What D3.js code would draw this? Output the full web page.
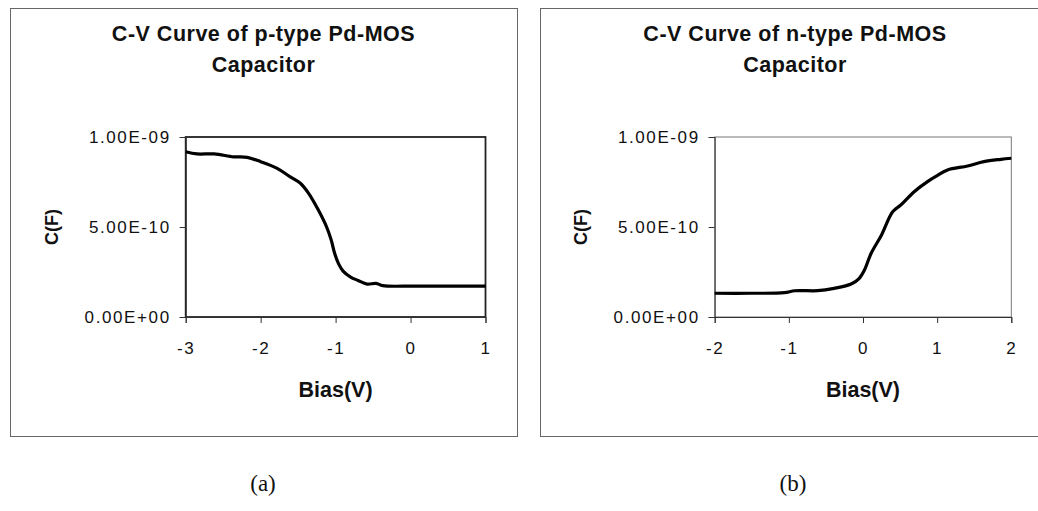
<!DOCTYPE html>
<html>
<head>
<meta charset="utf-8">
<script src="https://cdn.jsdelivr.net/npm/d3@7"></script>
<style>
	body { margin: 0; background: #fff; }
	svg { display: block; }
	.tick text { font-family: "Liberation Sans", Arial, sans-serif; font-size: 17px; letter-spacing: 1.6px; fill: #111; }
</style>
</head>
<body>
<script>
// bias values (V) and capacitance (F)
const pBias = [-3, -2.85, -2.62, -2.36, -2.18, -2.0, -1.78, -1.61, -1.47, -1.36, -1.23, -1.12, -1.06, -1.01, -0.96, -0.9, -0.8, -0.7, -0.58, -0.46, -0.37, 0.07, 1.0]
const pCap = [9.18e-10, 9.06e-10, 9.06e-10, 8.9e-10, 8.87e-10, 8.63e-10, 8.26e-10, 7.8e-10, 7.43e-10, 6.87e-10, 5.94e-10, 5.0e-10, 4.3e-10, 3.5e-10, 2.95e-10, 2.55e-10, 2.22e-10, 2.03e-10, 1.83e-10, 1.87e-10, 1.74e-10, 1.72e-10, 1.72e-10]

// same for the n-type curve
const nBias = [-2, -1.51, -1.06, -0.92, -0.61, -0.39, -0.16, -0.05, 0.02, 0.11, 0.25, 0.40, 0.51, 0.69, 0.87, 1.0, 1.14, 1.41, 1.63, 1.86, 2.0]
const nCap = [1.32e-10, 1.32e-10, 1.35e-10, 1.46e-10, 1.46e-10, 1.59e-10, 1.83e-10, 2.15e-10, 2.61e-10, 3.54e-10, 4.56e-10, 5.85e-10, 6.22e-10, 6.96e-10, 7.52e-10, 7.85e-10, 8.17e-10, 8.39e-10, 8.63e-10, 8.76e-10, 8.82e-10]

// tick values and labels
const pTicksX = [-3, -2, -1, 0, 1]
const nTicksX = [-2, -1, 0, 1, 2]
const capTicks = [0, 5e-10, 1e-9]
const capLabels = ["0.00E+00", "5.00E-10", "1.00E-09"]

const titles = ["C-V Curve of p-type Pd-MOS", "C-V Curve of n-type Pd-MOS"]
const captions = ["(a)", "(b)"]

var svg = d3.select("body").append("svg")
	.attr("width", 1038)
	.attr("height", 511)

// panel layout, one per chart
var panels = [{
	box: [10, 8, 507, 428],
	plot: { left: 185.7, right: 485.5, top: 137, bottom: 317 },
	bias: pBias, cap: pCap, ticks: pTicksX, title: titles[0], caption: captions[0],
	frame: "#222", frameWidth: 1.8
}, {
	box: [540, 8, 510, 428],
	plot: { left: 714.7, right: 1011.3, top: 137, bottom: 317 },
	bias: nBias, cap: nCap, ticks: nTicksX, title: titles[1], caption: captions[1],
	frame: "#777", frameWidth: 1
}]

var font = "'Liberation Sans', Arial, sans-serif"

panels.forEach(function (p) {
	var g = svg.append("g")

	// outer chart border
	g.append("rect")
		.attr("x", p.box[0] + 0.5)
		.attr("y", p.box[1] + 0.5)
		.attr("width", p.box[2])
		.attr("height", p.box[3])
		.attr("fill", "none")
		.attr("stroke", "#666")
		.attr("stroke-width", 1)

	var x = d3.scaleLinear()
		.domain(d3.extent(p.ticks))
		.range([p.plot.left, p.plot.right])

	var y = d3.scaleLinear()
		.domain([0, 1e-9])
		.range([p.plot.bottom, p.plot.top])

	var cx = p.box[0] + p.box[2] / 2

	// title on two lines
	var title = g.append("text")
		.attr("text-anchor", "middle")
		.attr("font-family", font)
		.attr("font-weight", "bold")
		.attr("font-size", 21.5)
		.attr("letter-spacing", 0.5)
		.attr("fill", "#111")
	title.append("tspan").attr("x", cx).attr("y", 41).text(p.title)
	title.append("tspan").attr("x", cx).attr("y", 72).text("Capacitor")

	// plot area frame
	g.append("rect")
		.attr("x", p.plot.left)
		.attr("y", p.plot.top)
		.attr("width", p.plot.right - p.plot.left)
		.attr("height", p.plot.bottom - p.plot.top)
		.attr("fill", "none")
		.attr("stroke", p.frame)
		.attr("stroke-width", p.frameWidth)

	// axes
	var xAxis = g.append("g")
		.attr("transform", "translate(0," + p.plot.bottom + ")")
		.call(d3.axisBottom(x).tickValues(p.ticks).tickFormat(function (d) { return String(d) }).tickSize(6).tickPadding(19))
	xAxis.select(".domain").attr("stroke", "#333")

	var yAxis = g.append("g")
		.attr("transform", "translate(" + p.plot.left + ",0)")
		.call(d3.axisLeft(y).tickValues(capTicks).tickFormat(function (d, i) { return capLabels[i] }).tickSize(6).tickPadding(9))
	yAxis.select(".domain").attr("stroke", "#333")
	g.selectAll(".tick line").attr("stroke", "#333")

	// axis titles
	g.append("text")
		.attr("x", (p.plot.left + p.plot.right) / 2)
		.attr("y", 397)
		.attr("text-anchor", "middle")
		.attr("font-family", font)
		.attr("font-weight", "bold")
		.attr("font-size", 21.5)
		.attr("fill", "#111")
		.text("Bias(V)")

	g.append("text")
		.attr("transform", "translate(" + (p.plot.left - 128) + "," + (p.plot.top + p.plot.bottom) / 2 + ") rotate(-90)")
		.attr("text-anchor", "middle")
		.attr("font-family", font)
		.attr("font-weight", "bold")
		.attr("font-size", 18)
		.attr("fill", "#111")
		.text("C(F)")

	// the C-V curve
	var line = d3.line()
		.x(function (d, i) { return x(p.bias[i]) })
		.y(function (d) { return y(d) })
		.curve(d3.curveCatmullRom.alpha(0.5))

	g.append("path")
		.datum(p.cap)
		.attr("d", line)
		.attr("fill", "none")
		.attr("stroke", "#000")
		.attr("stroke-width", 3.2)
		.attr("stroke-linejoin", "round")

	// caption under the panel
	svg.append("text")
		.attr("x", p.box[0] + 253)
		.attr("y", 491)
		.attr("text-anchor", "middle")
		.attr("font-family", "'Liberation Serif', 'Times New Roman', serif")
		.attr("font-size", 23)
		.attr("fill", "#111")
		.text(p.caption)
})
</script>
</body>
</html>
